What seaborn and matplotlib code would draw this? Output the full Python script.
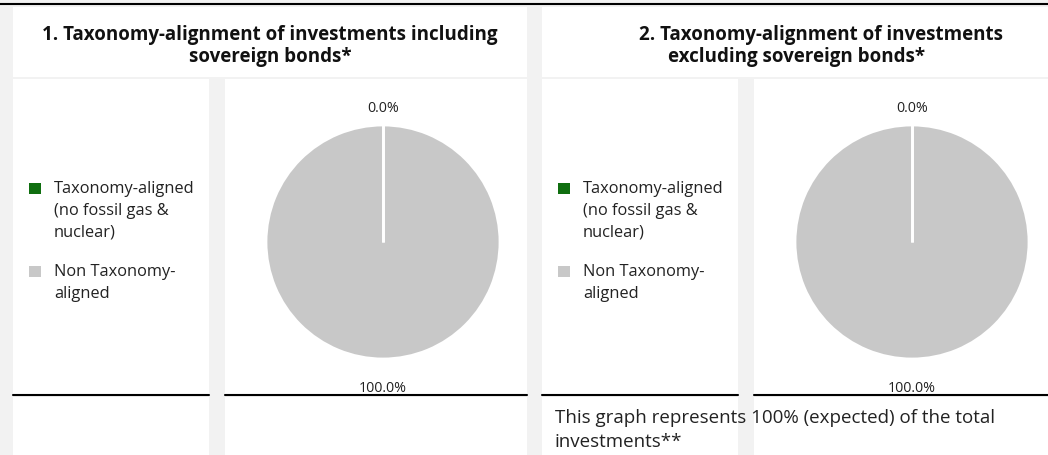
import matplotlib
matplotlib.use("Agg")
import matplotlib.pyplot as plt
import seaborn as sns
import numpy as np
from matplotlib.patches import Rectangle
from matplotlib.lines import Line2D

# chart data
categories = ["Taxonomy-aligned\n(no fossil gas &\nnuclear)", "Non Taxonomy-\naligned"]
incl_sovereign = [0.0, 100.0]
excl_sovereign = [0.0, 100.0]
title_incl = ["1. Taxonomy-alignment of investments including", "sovereign bonds*"]
title_excl = ["2. Taxonomy-alignment of investments", "excluding sovereign bonds*"]
note_text = "This graph represents 100% (expected) of the total\ninvestments**"

sns.set_theme(style="white")
plt.rcParams['font.family'] = ['Open Sans', 'DejaVu Sans']
colors = sns.color_palette(["#0f6e0f", "#c8c8c8"])

W, H = 1048, 456
fig = plt.figure(figsize=(W / 100, H / 100), dpi=100, facecolor="#f2f2f2")


def fx(x):
    return x / W


def fy(y):
    return 1 - y / H


def cell(x0, y0, x1, y1):
    fig.patches.append(Rectangle((fx(x0), fy(y1)), fx(x1) - fx(x0), fy(y0) - fy(y1),
                                 transform=fig.transFigure, facecolor="white",
                                 edgecolor="none", zorder=-1))


def hline(x0, x1, y, lw=1.5):
    fig.lines.append(Line2D([fx(x0), fx(x1)], [fy(y), fy(y)], transform=fig.transFigure,
                            color="black", linewidth=lw, zorder=2))


# table cells
cell(13, 8, 527, 78)
cell(542, 8, 1048, 78)
for (a, b) in [(13, 209), (225, 527), (542, 738), (754, 1048)]:
    cell(a, 80, b, 395)
    cell(a, 398, b, 456)
    hline(a, b, 395.5)
hline(0, 1048, 5)

# titles
for i, line in enumerate(title_incl):
    fig.text(fx(270), fy(35 + i * 22), line, ha="center", va="center",
             fontsize=13.5, fontweight="bold", color="#111111")
title_x = [821, 797]
for i, line in enumerate(title_excl):
    fig.text(fx(title_x[i]), fy(35 + i * 22), line, ha="center", va="center",
             fontsize=13.5, fontweight="bold", color="#111111")


def legend(x0):
    y = 189
    for lab, col in zip(categories, colors):
        fig.patches.append(Rectangle((fx(x0), fy(y + 5.5)), fx(12), 11 / H,
                                     transform=fig.transFigure, facecolor=col,
                                     edgecolor="none", zorder=3))
        for j, part in enumerate(lab.split("\n")):
            fig.text(fx(x0 + 25), fy(y + j * 22), part, ha="left", va="center",
                     fontsize=11.8, color="#222222")
        y += len(lab.split("\n")) * 22 + 17


def pie(cx, cy, values):
    R = 117
    half = 150
    ax = fig.add_axes([fx(cx - half), fy(cy + half), 2 * half / W, 2 * half / H])
    ax.set_zorder(1)
    ax.patch.set_alpha(0)
    ax.pie(values, colors=colors, startangle=90, counterclock=False, radius=1,
           wedgeprops=dict(edgecolor="white", linewidth=2))
    lim = half / R
    ax.set_xlim(-lim, lim)
    ax.set_ylim(-lim, lim)
    ax.axis("off")
    # wedge borders and percentage labels
    total = sum(values)
    start = 90.0
    for v in values:
        span = 360.0 * v / total
        a0 = np.deg2rad(start)
        ax.plot([0, np.cos(a0)], [0, np.sin(a0)], color="white", linewidth=2,
                solid_capstyle="butt")
        mid = np.deg2rad(start - span / 2)
        dist = 1.15 if np.sin(mid) > 0 else 1.24
        ax.text(dist * np.cos(mid), dist * np.sin(mid), f"{v:.1f}%", ha="center",
                va="center", fontsize=10.3, color="#222222")
        start -= span


legend(29)
legend(558)
pie(383, 243, incl_sovereign)
pie(912, 243, excl_sovereign)

note_lines = note_text.split("\n")
for i, line in enumerate(note_lines):
    fig.text(fx(555), fy(418 + i * 24), line, ha="left", va="center", fontsize=13.5,
             color="#222222")

fig.savefig("out.png", dpi=100, facecolor=fig.get_facecolor())
